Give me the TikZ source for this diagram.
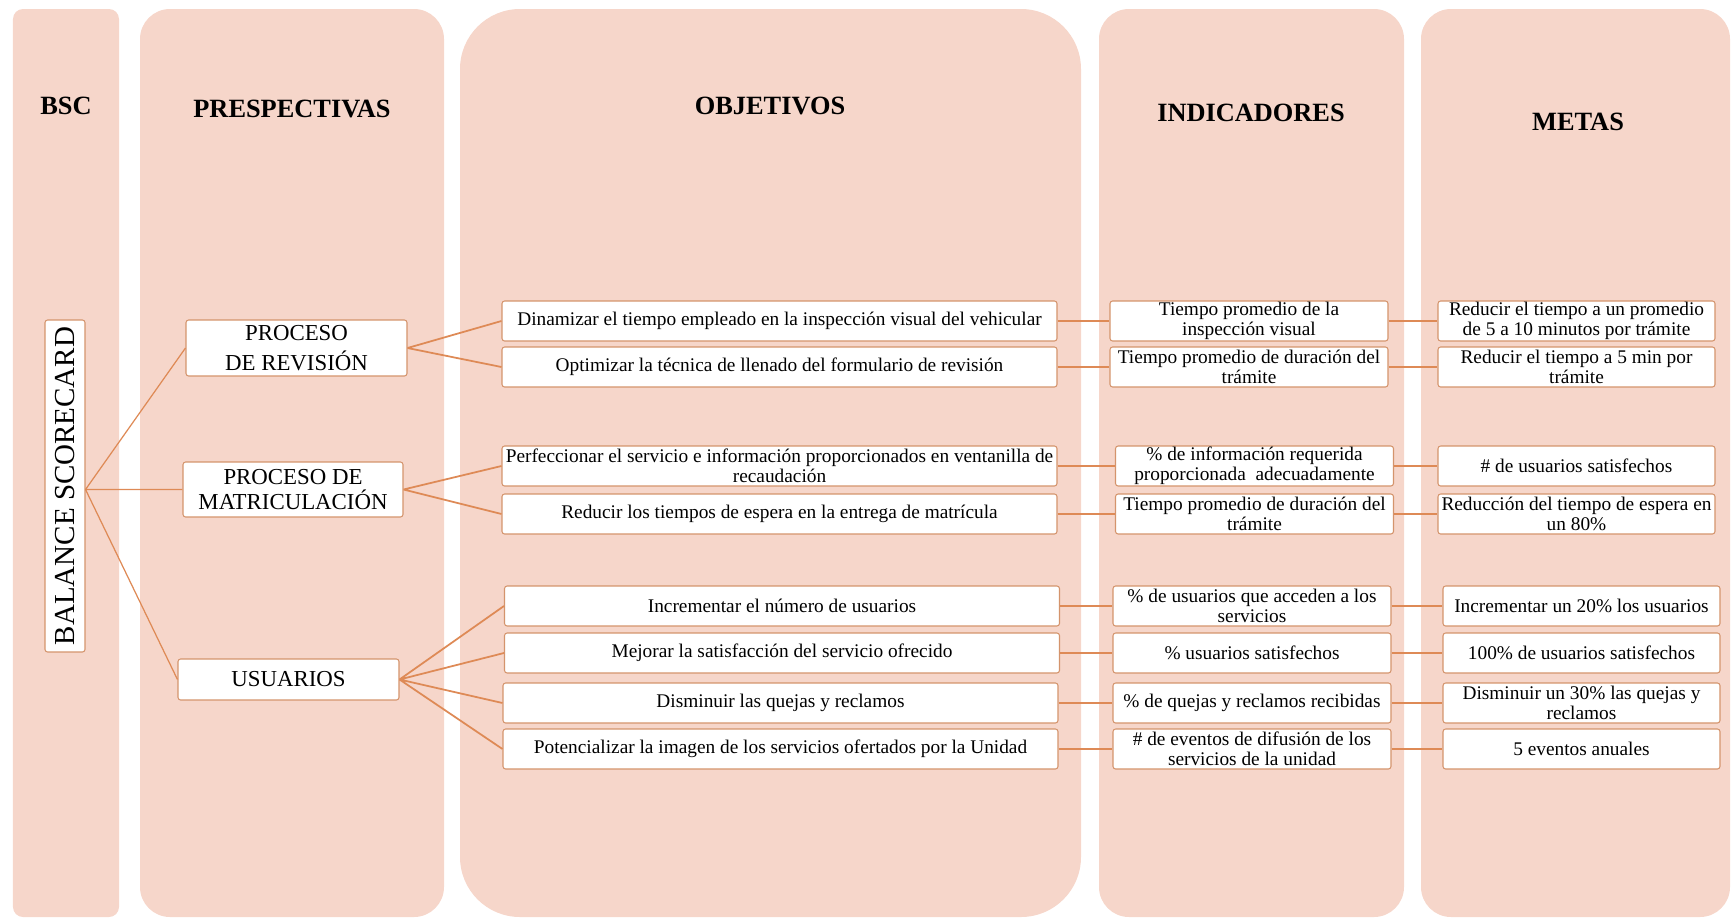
\documentclass[tikz,border=0pt]{standalone}
\usepackage{fontspec}
\setmainfont{Liberation Serif}
\definecolor{fondo}{RGB}{246,214,202}
\definecolor{linea}{RGB}{222,138,86}
\definecolor{borde}{RGB}{212,148,108}
\tikzset{
  caja/.style={draw=borde, line width=0.6pt, fill=white, rounded corners=1.5pt,
    align=center, inner sep=0pt, minimum height=0.8cm, font=\fontsize{11}{11.3}\selectfont},
  objetivo/.style={caja, minimum width=11.1cm},
  indicador/.style={caja, minimum width=5.56cm},
  meta/.style={caja, minimum width=5.54cm},
  prespectiva/.style={caja, minimum width=4.42cm, font=\fontsize{13}{14}\selectfont},
  titulo/.style={font=\fontsize{15}{16}\selectfont\bfseries},
  rama/.style={draw=linea, line width=1pt},
  columna/.style={fill=fondo}
}

\begin{document}
\begin{tikzpicture}
\useasboundingbox (0,0) rectangle (34.66,-18.38);
% columnas de fondo
\fill[columna, rounded corners=0.2cm] (0.26,-0.18) rectangle (2.38,-18.34);
\fill[columna, rounded corners=0.6cm] (2.80,-0.18) rectangle (8.88,-18.34);
\fill[columna, rounded corners=1.2cm] (9.20,-0.18) rectangle (21.62,-18.34);
\fill[columna, rounded corners=0.6cm] (21.98,-0.18) rectangle (28.08,-18.34);
\fill[columna, rounded corners=0.6cm] (28.42,-0.18) rectangle (34.60,-18.34);

% titulos
\node[titulo] (tbsc) at (1.32,-2.12) {BSC};
\node[titulo] (tpre) at (5.84,-2.18) {PRESPECTIVAS};
\node[titulo] (tobj) at (15.40,-2.12) {OBJETIVOS};
\node[titulo] (tind) at (25.02,-2.26) {INDICADORES};
\node[titulo] (tmet) at (31.56,-2.44) {METAS};

% BSC y prespectivas
\node[caja, minimum width=0.8cm, minimum height=6.64cm, font=\fontsize{16.5}{18}\selectfont]
  (bsc) at (1.30,-9.72) {\rotatebox{90}{BALANCE SCORECARD}};
\node[prespectiva, minimum height=1.12cm] (pr) at (5.93,-6.96) {PROCESO\\[3.5pt] DE REVISIÓN};
\node[prespectiva, minimum height=1.10cm, minimum width=4.40cm] (pm) at (5.86,-9.79) {PROCESO DE\\MATRICULACIÓN};
\node[prespectiva, minimum height=0.82cm] (us) at (5.77,-13.59) {USUARIOS};

% objetivos
\node[objetivo] (o1) at (15.59,-6.42) {Dinamizar el tiempo empleado en la inspección visual del vehicular};
\node[objetivo] (o2) at (15.59,-7.34) {Optimizar la técnica de llenado del formulario de revisión};
\node[objetivo] (o3) at (15.59,-9.32) {Perfeccionar el servicio e información proporcionados en ventanilla de\\recaudación};
\node[objetivo] (o4) at (15.59,-10.28) {Reducir los tiempos de espera en la entrega de matrícula};
\node[objetivo] (o5) at (15.64,-12.12) {Incrementar el número de usuarios};
\node[objetivo] (o6) at (15.64,-13.06) {Mejorar la satisfacción del servicio ofrecido};
\node[objetivo] (o7) at (15.61,-14.06) {Disminuir las quejas y reclamos};
\node[objetivo] (o8) at (15.61,-14.98) {Potencializar la imagen de los servicios ofertados por la Unidad};

% indicadores
\node[indicador] (i1) at (24.98,-6.42) {Tiempo promedio de la\\inspección visual};
\node[indicador] (i2) at (24.98,-7.34) {Tiempo promedio de duración del\\trámite};
\node[indicador] (i3) at (25.09,-9.32) {\% de información requerida\\proporcionada\ \ adecuadamente};
\node[indicador] (i4) at (25.09,-10.28) {Tiempo promedio de duración del\\trámite};
\node[indicador] (i5) at (25.04,-12.12) {\% de usuarios que acceden a los\\servicios};
\node[indicador] (i6) at (25.04,-13.06) {\% usuarios satisfechos};
\node[indicador] (i7) at (25.04,-14.06) {\% de quejas y reclamos recibidas};
\node[indicador] (i8) at (25.04,-14.98) {\# de eventos de difusión de los\\servicios de la unidad};

% metas
\node[meta] (m1) at (31.53,-6.42) {Reducir el tiempo a un promedio\\de 5 a 10 minutos por trámite};
\node[meta] (m2) at (31.53,-7.34) {Reducir el tiempo a 5 min por\\trámite};
\node[meta] (m3) at (31.53,-9.32) {\# de usuarios satisfechos};
\node[meta] (m4) at (31.53,-10.28) {Reducción del tiempo de espera en\\un 80\%};
\node[meta] (m5) at (31.63,-12.12) {Incrementar un 20\% los usuarios};
\node[meta] (m6) at (31.63,-13.06) {100\% de usuarios satisfechos};
\node[meta] (m7) at (31.63,-14.06) {Disminuir un 30\% las quejas y\\reclamos};
\node[meta] (m8) at (31.63,-14.98) {5 eventos anuales};

% ramas
\coordinate (hub) at (bsc.east |- pm.west);
\draw[rama, line width=0.7pt] (hub) -- (pr.west) (hub) -- (pm.west) (hub) -- (us.west);
\draw[rama] (pr.east) -- (o1.west) (pr.east) -- (o2.west);
\draw[rama] (pm.east) -- (o3.west) (pm.east) -- (o4.west);
\draw[rama] (us.east) -- (o5.west) (us.east) -- (o6.west) (us.east) -- (o7.west) (us.east) -- (o8.west);
\draw[rama] (o1) -- (i1) -- (m1);
\draw[rama] (o2) -- (i2) -- (m2);
\draw[rama] (o3) -- (i3) -- (m3);
\draw[rama] (o4) -- (i4) -- (m4);
\draw[rama] (o5) -- (i5) -- (m5);
\draw[rama] (o6) -- (i6) -- (m6);
\draw[rama] (o7) -- (i7) -- (m7);
\draw[rama] (o8) -- (i8) -- (m8);
\end{tikzpicture}
\end{document}
